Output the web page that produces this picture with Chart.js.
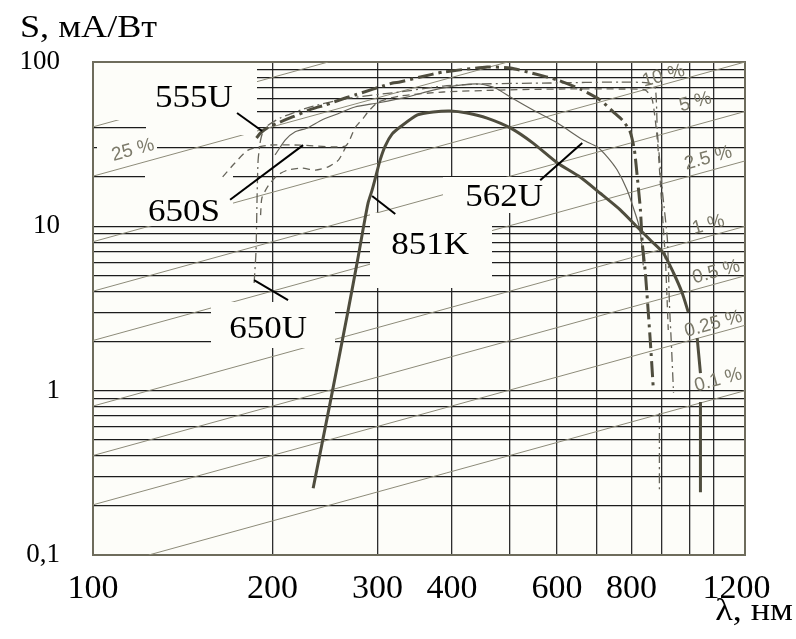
<!DOCTYPE html>
<html>
<head>
<meta charset="utf-8">
<script src="https://cdn.jsdelivr.net/npm/chart.js@4.4.0/dist/chart.umd.min.js"></script>
<style>
  body { margin: 0; background: #fff; }
</style>
</head>
<body>
<canvas id="chart" width="796" height="639"></canvas>
<script>
// axis ticks: wavelength, nm
var xTicks = [100, 200, 300, 400, 500, 600, 700, 800, 900, 1000, 1100, 1200];
var xLabelled = [100, 200, 300, 400, 600, 800, 1200];
// axis ticks: sensitivity, mA/W
var yTicks = [0.1, 0.2, 0.3, 0.4, 0.5, 0.6, 0.7, 0.8, 0.9,
  1, 2, 3, 4, 5, 6, 7, 8, 9,
  10, 20, 30, 40, 50, 60, 70, 80, 90, 100];
var yMajor = [0.1, 1, 10, 100];
var yMajorText = ["0,1", "1", "10", "100"];

// photocathode curves (nm / mA/W), null = break in the trace
var u555Wave = [188, 191, 196, 204, 216, 233, 245, 265, 275, 318, 327, 354, 387, 458, 501, 552, 601, 656, 709, 746, 775, 796, 809, 818, 828, 834, 844, 860, 870];
var u555Sens = [34.5, 37.0, 39.7, 42.5, 46.3, 51.8, 54.7, 60.4, 63.0, 74.5, 75.5, 81.0, 86.9, 93.2, 92.0, 84.5, 77.7, 68.5, 58.7, 49.6, 43.7, 37.5, 29.1, 20.0, 12.6, 7.9, 5.2, 2.03, 1.05];

var u562Wave = [202, 210, 218, 229, 242, 257, 275, 300, 336, 372, 413, 446, 473, 501, 547, 601, 664, 701, 729, 757, 787, 805, 821, 831, 837];
var u562Sens = [27.2, 33.5, 37.5, 39.7, 44.4, 48.3, 53.2, 56.3, 61.2, 67.5, 72.4, 73.5, 69.4, 61.2, 51.0, 42.5, 33.5, 30.4, 26.4, 22.0, 16.6, 13.1, 10.5, 8.25, 5.8];

var s650Wave = [165, 173, 182, 197, 223, 265, 275, 284, 289, 301, 327, 387, 482, 608, 766, 844, 867, 884, 898, 912, 922, 922,
  191, 192, 197, 204, 212, 224, 236, 248, 258, 265];
var s650Sens = [20.0, 24.3, 29.1, 31.2, 31.2, 30.8, 39.7, 45.6, 49.6, 57.1, 62.1, 65.7, 67.5, 68.5, 68.5, 67.5, 58.7, 33.5, 14.5, 6.23, 2.34, null,
  11.7, 14.9, 17.8, 20.5, 22.0, 22.6, 22.0, 23.0, 25.3, 30.0];

var u650Wave = [186.3, 187.7, 188.4, 189.2, 191, 194, 206, 231, 270, 327, 387, 446, 585, 766, 854, 877, 884, 901, 919, 926, 933, 941, 941, 891, 891];
var u650Sens = [4.52, 7.17, 14.5, 25.3, 33.5, 39.7, 45.6, 53.2, 60.4, 65.7, 71.4, 73.5, 74.5, 75.5, 74.5, 69.4, 37.5, 16.6, 8.25, 3.41, 1.95, 0.967, null, 0.731, 0.238];

var k851Wave = [234, 249.8, 267.9, 278.4, 283.8, 289.3, 293.8, 298.4, 303, 309, 317.5, 327.4, 350, 372, 397, 424, 458, 501, 547, 601, 656, 709, 766, 818, 860, 905, 941, 973, 996, 1010, 1031, 1044, 1044, 1044, 1044];
var k851Sens = [0.255, 0.84, 3.09, 6.5, 9.63, 13.9, 16.6, 20.5, 25.3, 30.8, 36.5, 40.2, 47.6, 49.6, 50.3, 48.9, 45.6, 39.7, 32.1, 24.3, 19.95, 15.9, 12.6, 9.90, 8.25, 6.88, 5.20, 3.93, 3.01, null, 2.09, 1.28, null, 0.852, 0.241];

// quantum efficiency reference lines, end points (nm / mA/W)
var qeNames = ["50 %", "25 %", "10 %", "5 %", "2.5 %", "1 %", "0.5 %", "0.25 %", "0.1 %"];
var qeWave = [[100, 248], [100, 496], [100, 1240], [100, 1240], [100, 1240], [100, 1240], [100, 1240], [100, 1240], [124, 1240]];
var qeSens = [[40.3, 100], [20.2, 100], [8.06, 100], [4.03, 50], [2.02, 25], [0.806, 10], [0.403, 5], [0.202, 2.5], [0.1, 1]];

function pairs(w, s) {
  return w.map(function (v, i) { return { x: v, y: s[i] }; });
}

var ink = "#4f4d3e";
var curveSets = [
  { label: "851K", data: pairs(k851Wave, k851Sens), borderColor: ink, borderWidth: 3 },
  { label: "555U", data: pairs(u555Wave, u555Sens), borderColor: ink, borderWidth: 3, borderDash: [16, 5, 3, 5] },
  { label: "562U", data: pairs(u562Wave, u562Sens), borderColor: "#66645a", borderWidth: 1.2 },
  { label: "650S", data: pairs(s650Wave, s650Sens), borderColor: "#66645a", borderWidth: 1.3, borderDash: [7, 5] },
  { label: "650U", data: pairs(u650Wave, u650Sens), borderColor: "#66645a", borderWidth: 1.3, borderDash: [10, 4, 2, 4] }
];
curveSets.forEach(function (d) { d.curve = true; d.order = 0; d.tension = 0.2; });

var qeSets = qeNames.map(function (n, i) {
  return {
    label: n,
    data: pairs(qeWave[i], qeSens[i]),
    borderColor: "#8d8b79",
    borderWidth: 1,
    tension: 0,
    order: 1
  };
});

// text placed on the plot (positions in data units)
var curveTags = [
  { text: "555U", at: [147.7, 59.5], from: [174.4, 48.9], to: [192.1, 38.0] },
  { text: "650S", at: [142.1, 12.05], from: [169.8, 14.5], to: [225.1, 31.2] },
  { text: "650U", at: [196.6, 2.34], from: [212.4, 3.56], to: [186.3, 4.71] },
  { text: "851K", at: [367.6, 7.59], from: [321.3, 11.9], to: [293.8, 15.3] },
  { text: "562U", at: [489.4, 14.9], from: [562.3, 19.1], to: [661.4, 32.1] }
];
var qeTags = [
  { text: "25 %", at: [116.7, 29.1] },
  { text: "10 %", at: [904.9, 82.2] },
  { text: "5 %", at: [1023.5, 57.1] },
  { text: "2.5 %", at: [1076.2, 26.0] },
  { text: "1 %", at: [1076.2, 10.2] },
  { text: "0.5 %", at: [1109.9, 5.27] },
  { text: "0.25 %", at: [1097.3, 2.54] },
  { text: "0.1 %", at: [1118.6, 1.16] }
];
// white patches of the original figure (pixels)
var gridPatches = [[97, 133, 60, 33]];
var labelPatches = [[94, 63, 163, 57], [146, 121, 111, 14], [145, 170, 88, 56], [211, 302, 124, 46], [370, 213, 122, 75], [443, 177, 97, 36]];

var patchesDone = false;
function fillPatches(ctx, list) {
  ctx.save();
  ctx.fillStyle = "#fdfdf9";
  list.forEach(function (p) { ctx.fillRect(p[0], p[1], p[2], p[3]); });
  ctx.restore();
}

// the scanned original is slightly stretched sideways
function wideText(ctx, text, x, y) {
  ctx.save();
  ctx.translate(x, y);
  ctx.scale(1.13, 1);
  ctx.fillText(text, 0, 0);
  ctx.restore();
}

var decor = {
  id: "decor",
  beforeDraw: function (chart) {
    var a = chart.chartArea, ctx = chart.ctx;
    ctx.save();
    ctx.fillStyle = "#fdfdf9";
    ctx.fillRect(a.left, a.top, a.right - a.left, a.bottom - a.top);
    ctx.restore();
  },
  beforeDatasetsDraw: function (chart) {
    patchesDone = false;
    fillPatches(chart.ctx, gridPatches);
    var a = chart.chartArea, ctx = chart.ctx;
    ctx.save();
    ctx.strokeStyle = "#6e6c5c";
    ctx.lineWidth = 2;
    ctx.strokeRect(a.left, a.top, a.right - a.left, a.bottom - a.top);
    ctx.restore();
  },
  beforeDatasetDraw: function (chart, args) {
    if (!patchesDone && chart.data.datasets[args.index].curve) {
      fillPatches(chart.ctx, labelPatches);
      patchesDone = true;
    }
  },
  afterDatasetsDraw: function (chart) {
    var ctx = chart.ctx, xs = chart.scales.x, ys = chart.scales.y;
    function px(p) { return [xs.getPixelForValue(p[0]), ys.getPixelForValue(p[1])]; }

    // quantum efficiency labels follow the slope of the lines
    var p0 = px([100, 1]), p1 = px([1000, 10]);
    var ang = Math.atan2(p1[1] - p0[1], p1[0] - p0[0]);
    ctx.save();
    ctx.fillStyle = "#7c7a6a";
    ctx.font = '19px "Liberation Sans"';
    ctx.textAlign = "center";
    ctx.textBaseline = "middle";
    qeTags.forEach(function (t) {
      var p = px(t.at);
      ctx.save();
      ctx.translate(p[0], p[1]);
      ctx.rotate(ang);
      ctx.fillText(t.text, 0, 0);
      ctx.restore();
    });
    ctx.restore();

    ctx.save();
    ctx.strokeStyle = "#000";
    ctx.lineWidth = 2;
    ctx.fillStyle = "#000";
    ctx.font = '31px "Liberation Serif"';
    ctx.textAlign = "center";
    ctx.textBaseline = "middle";
    curveTags.forEach(function (t) {
      var a = px(t.from), b = px(t.to), c = px(t.at);
      ctx.beginPath();
      ctx.moveTo(a[0], a[1]);
      ctx.lineTo(b[0], b[1]);
      ctx.stroke();
      wideText(ctx, t.text, c[0], c[1]);
    });
    ctx.restore();
  },
  afterDraw: function (chart) {
    var ctx = chart.ctx;
    ctx.save();
    ctx.fillStyle = "#000";
    ctx.textBaseline = "alphabetic";
    ctx.font = '32px "Liberation Serif"';
    ctx.textAlign = "left";
    wideText(ctx, "S, мА/Вт", 20, 37);
    ctx.textAlign = "right";
    wideText(ctx, "λ, нм", 793, 620);
    ctx.restore();
  }
};

new Chart(document.getElementById("chart"), {
  type: "line",
  data: { datasets: curveSets.concat(qeSets) },
  plugins: [decor],
  options: {
    responsive: false,
    animation: false,
    layout: { padding: { top: 62, right: 51, left: 0, bottom: 0 } },
    elements: { point: { radius: 0 } },
    plugins: { legend: { display: false }, tooltip: { enabled: false } },
    scales: {
      x: {
        type: "logarithmic",
        min: 100,
        max: 1240,
        afterFit: function (s) { s.height = 84; },
        afterBuildTicks: function (s) {
          s.ticks = xTicks.map(function (v) { return { value: v }; });
        },
        border: { display: false },
        grid: {
          drawTicks: false,
          lineWidth: 1.3,
          color: function (c) {
            var v = c.tick && c.tick.value;
            return (v === 100 || v === 1200) ? "rgba(0,0,0,0)" : "#2e2e2e";
          }
        },
        ticks: {
          autoSkip: false,
          maxRotation: 0,
          padding: 14,
          color: "#000",
          font: { family: "Liberation Serif", size: 34 },
          callback: function (v) { return xLabelled.indexOf(v) < 0 ? "" : String(v); }
        }
      },
      y: {
        type: "logarithmic",
        min: 0.1,
        max: 100,
        afterFit: function (s) { s.width = 93; },
        afterBuildTicks: function (s) {
          s.ticks = yTicks.map(function (v) { return { value: v }; });
        },
        border: { display: false },
        grid: { drawTicks: false, lineWidth: 1.3, color: "#1c1c1c" },
        ticks: {
          autoSkip: false,
          padding: 33,
          color: "#000",
          font: { family: "Liberation Serif", size: 27 },
          callback: function (v) {
            var i = yMajor.indexOf(v);
            return i < 0 ? "" : yMajorText[i];
          }
        }
      }
    }
  }
});
</script>
</body>
</html>
